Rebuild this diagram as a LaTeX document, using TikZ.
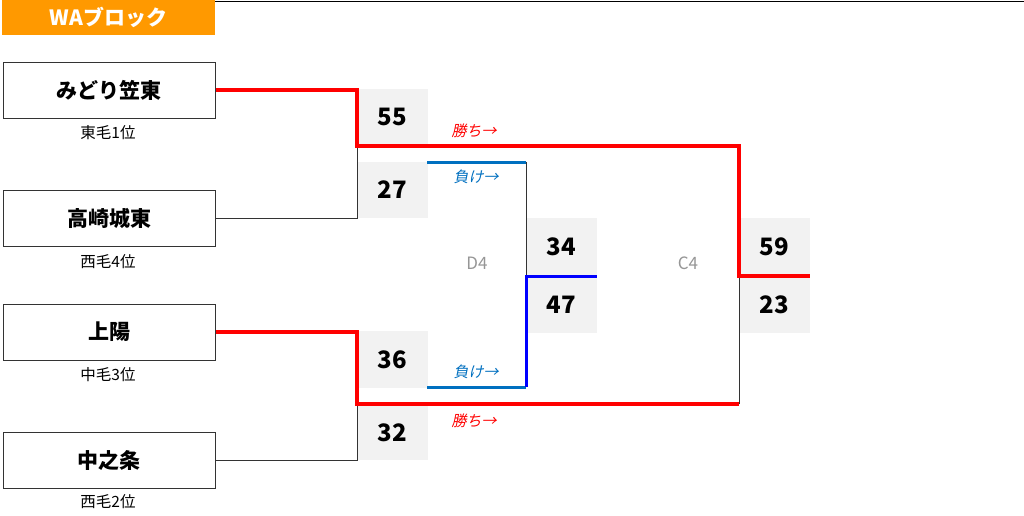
\documentclass[tikz,border=0pt]{standalone}
\usepackage{fontspec}
\setmainfont{Noto Sans CJK JP}
\newfontfamily\jpit{Noto Sans CJK JP}[FakeSlant=0.2]
\definecolor{orangeblk}{RGB}{255,153,0}
\definecolor{scoregray}{RGB}{242,242,242}
\definecolor{winred}{RGB}{255,0,0}
\definecolor{loseblue}{RGB}{0,112,192}
\definecolor{pureblue}{RGB}{0,0,255}
\definecolor{labelgray}{RGB}{150,150,150}
\tikzset{
  team/.style={draw=black!80, line width=1pt, minimum width=212pt, minimum height=56pt, inner sep=0pt, font=\fontsize{21}{21}\selectfont\bfseries},
  sub/.style={font=\fontsize{15.5}{15.5}\selectfont, inner sep=0pt},
  scorebox/.style={fill=scoregray, minimum width=71pt, inner sep=0pt, font=\fontsize{24}{24}\selectfont\bfseries},
  winline/.style={draw=winred, line width=3.5pt},
  thinline/.style={draw=black!80, line width=1pt},
  loseline/.style={draw=loseblue, line width=3pt},
  blueline/.style={draw=pureblue, line width=3pt},
  winlabel/.style={text=winred, font=\fontsize{15}{15}\selectfont\jpit, inner sep=0pt},
  loselabel/.style={text=loseblue, font=\fontsize{15}{15}\selectfont\jpit, inner sep=0pt},
  roundlabel/.style={text=labelgray, font=\fontsize{17}{17}\selectfont, inner sep=0pt}
}
\begin{document}
\begin{tikzpicture}[x=1pt,y=-1pt]
\useasboundingbox (0,0) rectangle (1024,515);
\fill[white] (0,0) rectangle (1024,515);
% header
\node[fill=orangeblk, minimum width=213pt, minimum height=35pt, inner sep=0pt, text=white, font=\fontsize{21}{21}\selectfont\bfseries] (hdr) at (108.5,17.5) {WAブロック};
\coordinate (topstart) at (215,1);
\coordinate (topend) at (1024,1);
\draw[black, line width=1pt] (topstart) -- (topend);
% teams
\node[team] (t1) at (109,90) {みどり笠東};
\node[team] (t2) at (109,218) {高崎城東};
\node[team] (t3) at (109,332) {上陽};
\node[team] (t4) at (109,460) {中之条};
\node[sub] (p1) at (108,133) {東毛1位};
\node[sub] (p2) at (108,262) {西毛4位};
\node[sub] (p3) at (108,375) {中毛3位};
\node[sub] (p4) at (108,502) {西毛2位};
% score boxes
\node[scorebox, minimum height=56pt] (s1) at (392.5,117) {55};
\node[scorebox, minimum height=56pt] (s2) at (392.5,190) {27};
\node[scorebox, minimum height=57pt] (s3) at (392.5,359.5) {36};
\node[scorebox, minimum height=55pt] (s4) at (392.5,432.5) {32};
\node[scorebox, minimum height=58pt] (s5) at (561.5,247) {34};
\node[scorebox, minimum height=57pt] (s6) at (561.5,304.5) {47};
\node[scorebox, minimum height=58pt] (s7) at (774.5,247) {59};
\node[scorebox, minimum height=57pt] (s8) at (774.5,304.5) {23};
% round labels
\node[roundlabel] (d4) at (477,263) {D4};
\node[roundlabel] (c4) at (688,263) {C4};
% junction coordinates
\coordinate (a1) at (357,90);
\coordinate (j1) at (357,146);
\coordinate (a2) at (357,218);
\coordinate (a3) at (357,332);
\coordinate (j2) at (357,404);
\coordinate (a4) at (357,460);
\coordinate (c1) at (739,146);
\coordinate (c2) at (739,276);
\coordinate (c3) at (739,404);
\coordinate (cend) at (810,276);
\coordinate (l1) at (427,162);
\coordinate (l1b) at (526,162);
\coordinate (l2) at (427,387);
\coordinate (l2b) at (526,387);
\coordinate (d2) at (526,276);
\coordinate (dend) at (597,276);
% thin lines
\draw[thinline] (t2.east) -- (a2) -- (j1);
\draw[thinline] (t4.east) -- (a4) -- (j2);
\draw[thinline] (c3) -- (c2);
\draw[thinline] (l1b) -- (d2);
% losers
\draw[loseline] (l1) -- (l1b);
\draw[loseline] (l2) -- (l2b);
\draw[blueline, line join=miter] (l2b) -- (d2) -- (dend);
% winners
\draw[winline, line join=miter] (t1.east) -- (a1) -- (j1) -- (c1) -- (c2) -- (cend);
\draw[winline, line join=miter] (t3.east) -- (a3) -- (j2) -- (c3);
% labels
\node[winlabel] (w1) at (474,131) {勝ち→};
\node[winlabel] (w2) at (474,421) {勝ち→};
\node[loselabel] (x1) at (476,177) {負け→};
\node[loselabel] (x2) at (476,372) {負け→};
\end{tikzpicture}
\end{document}
